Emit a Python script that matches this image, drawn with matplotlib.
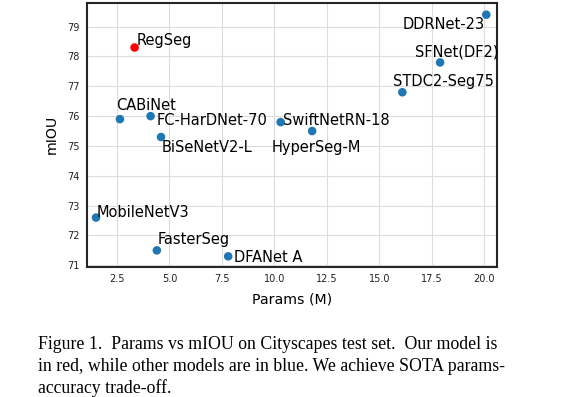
import matplotlib
matplotlib.use("Agg")
import matplotlib.pyplot as plt

# Data
models = ["RegSeg", "CABiNet", "FC-HarDNet-70", "BiSeNetV2-L", "SwiftNetRN-18",
          "HyperSeg-M", "STDC2-Seg75", "SFNet(DF2)", "DDRNet-23", "MobileNetV3",
          "FasterSeg", "DFANet A"]
params = [3.34, 2.64, 4.1, 4.6, 10.3, 11.8, 16.1, 17.9, 20.1, 1.5, 4.4, 7.8]
miou = [78.3, 75.9, 76.0, 75.3, 75.8, 75.5, 76.8, 77.8, 79.4, 72.6, 71.5, 71.3]
colors = ["red"] + ["#1f77b4"] * 11

# label offsets in pixels (dx right, dy up to baseline) - style only
offsets = {
    "RegSeg": (2.5, 3), "CABiNet": (-3.6, 9), "FC-HarDNet-70": (5.7, -9.3),
    "BiSeNetV2-L": (0.7, -15), "SwiftNetRN-18": (2.3, -3.3), "HyperSeg-M": (-40.6, -21),
    "STDC2-Seg75": (-9.3, 6), "SFNet(DF2)": (-25, 5.6), "DDRNet-23": (-83.4, -14.3),
    "MobileNetV3": (1, 0.6), "FasterSeg": (0.7, 6.4), "DFANet A": (6.3, -6),
}

DPI = 100
fig = plt.figure(figsize=(5.81, 3.97), dpi=DPI)
ax = fig.add_axes([0.149, 0.328, 0.706, 0.665])

ax.scatter(params, miou, c=colors, s=38, zorder=3, linewidths=0)
px2pt = 72.0 / DPI
for m, x, y in zip(models, params, miou):
    dx, dy = offsets[m]
    ax.annotate(m, (x, y), xytext=(dx * px2pt, dy * px2pt), textcoords="offset points",
                ha="left", va="baseline", fontsize=10.5, color="black", zorder=4)

ax.set_xlim(1.05, 20.6)
ax.set_ylim(70.95, 79.8)
ax.set_xticks([2.5, 5.0, 7.5, 10.0, 12.5, 15.0, 17.5, 20.0])
ax.set_yticks([71, 72, 73, 74, 75, 76, 77, 78, 79])
ax.grid(True, color="#dddddd", linewidth=0.8, zorder=0)
ax.set_axisbelow(True)
ax.tick_params(length=0, labelsize=7, colors="#222222", pad=5)
for s in ax.spines.values():
    s.set_color("#262626")
    s.set_linewidth(1.5)
ax.set_xlabel("Params (M)", fontsize=10.2, labelpad=6)
ax.set_ylabel("mIOU", fontsize=10.2, labelpad=6)

cap_lines = [
    "Figure 1.  Params vs mIOU on Cityscapes test set.  Our model is",
    "in red, while other models are in blue. We achieve SOTA params-",
    "accuracy trade-off.",
]
for i, line in enumerate(cap_lines):
    fig.text(38 / 581, 1 - (349 + 22 * i) / 397, line, family="Liberation Serif",
             fontsize=12.8, ha="left", va="baseline", color="black")

fig.savefig("out.png", dpi=DPI)
